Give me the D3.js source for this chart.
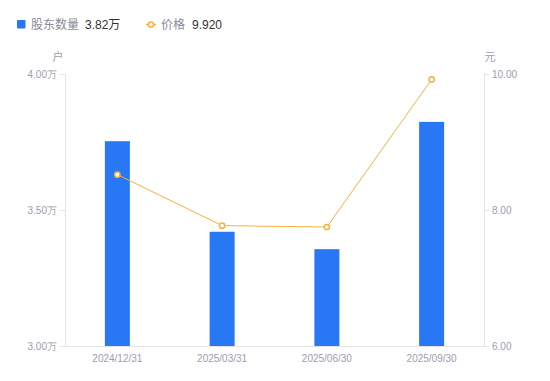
<!DOCTYPE html>
<html>
<head>
<meta charset="utf-8">
<script src="https://cdn.jsdelivr.net/npm/d3@7"></script>
<style>
  html, body { margin: 0; padding: 0; background: #fff; }
  svg { display: block; font-family: "Liberation Sans", Arial, "Noto Sans CJK SC", sans-serif; }
</style>
</head>
<body>
<div id="chart"></div>
<script>
// Data
const dates = ['2024/12/31', '2025/03/31', '2025/06/30', '2025/09/30'];
const holders = [3.753, 3.42, 3.356, 3.824]; // 万户
const prices = [8.52, 7.77, 7.75, 9.92];     // 元
const holderTicks = [3.0, 3.5, 4.0];
const priceTicks = [6, 8, 10];

const width = 550, height = 381;
const margin = { top: 74, right: 66, bottom: 35, left: 65 };
const innerW = width - margin.left - margin.right;
const innerH = height - margin.top - margin.bottom;

const barColor = '#2878f5';
const lineColor = '#f9b03c';
const axisColor = '#e3e3e8';
const tickText = '#9d9dac';

const svg = d3.select('#chart').append('svg').attr('width', width).attr('height', height);

// Legend
const legend = svg.append('g').attr('font-size', 12);
legend.append('rect').attr('x', 17).attr('y', 20).attr('width', 8.5).attr('height', 8.5)
  .attr('rx', 1).attr('fill', barColor);
legend.append('text').attr('x', 31).attr('y', 28.5).attr('fill', '#8a8a99').text('股东数量');
legend.append('text').attr('x', 85).attr('y', 28.5).attr('fill', '#333').text(d3.format('.2f')(holders[3]) + '万');
legend.append('line').attr('x1', 146).attr('x2', 156).attr('y1', 24.5).attr('y2', 24.5)
  .attr('stroke', lineColor).attr('stroke-width', 1.5);
legend.append('circle').attr('cx', 151).attr('cy', 24.5).attr('r', 2.6)
  .attr('fill', '#fff').attr('stroke', lineColor).attr('stroke-width', 1.5);
legend.append('text').attr('x', 161).attr('y', 28.5).attr('fill', '#8a8a99').text('价格');
legend.append('text').attr('x', 192).attr('y', 28.5).attr('fill', '#333').text(d3.format('.3f')(prices[3]));

const g = svg.append('g').attr('transform', `translate(${margin.left},${margin.top})`);

const x = d3.scaleBand().domain(dates).range([0, innerW]).paddingInner(0).paddingOuter(0);
const yL = d3.scaleLinear().domain([3.0, 4.0]).range([innerH, 0]);
const yR = d3.scaleLinear().domain([6, 10]).range([innerH, 0]);

function styleAxis(sel) {
  sel.select('.domain').attr('stroke', axisColor);
  sel.selectAll('.tick line').attr('stroke', axisColor);
  sel.selectAll('.tick text').attr('fill', tickText).attr('font-size', 10);
}

// Left axis
g.append('g')
  .call(d3.axisLeft(yL).tickValues(holderTicks).tickSize(5).tickSizeOuter(0).tickPadding(3)
    .tickFormat(d => d3.format('.2f')(d) + '万'))
  .call(styleAxis);

// Right axis
g.append('g').attr('transform', `translate(${innerW},0)`)
  .call(d3.axisRight(yR).tickValues(priceTicks).tickSize(5).tickSizeOuter(0).tickPadding(3)
    .tickFormat(d3.format('.2f')))
  .call(styleAxis);

// Bottom axis
g.append('g').attr('transform', `translate(0,${innerH})`)
  .call(d3.axisBottom(x).tickSize(0).tickPadding(9))
  .call(styleAxis);

// Unit labels
svg.append('text').attr('x', 58).attr('y', 61).attr('text-anchor', 'middle')
  .attr('font-size', 11).attr('fill', tickText).text('户');
svg.append('text').attr('x', 490).attr('y', 61).attr('text-anchor', 'middle')
  .attr('font-size', 11).attr('fill', tickText).text('元');

// Bars
const barW = 25;
g.selectAll('.bar')
  .data(holders)
  .enter()
  .append('rect')
  .attr('class', 'bar')
  .attr('x', (d, i) => x(dates[i]) + x.bandwidth() / 2 - barW / 2)
  .attr('y', d => yL(d))
  .attr('width', barW)
  .attr('height', d => innerH - yL(d))
  .attr('fill', barColor);

// Price line
const line = d3.line()
  .x((d, i) => x(dates[i]) + x.bandwidth() / 2)
  .y(d => yR(d));

g.append('path')
  .datum(prices)
  .attr('d', line)
  .attr('fill', 'none')
  .attr('stroke', lineColor)
  .attr('stroke-width', 1);

g.selectAll('.pt')
  .data(prices)
  .enter()
  .append('circle')
  .attr('class', 'pt')
  .attr('cx', (d, i) => x(dates[i]) + x.bandwidth() / 2)
  .attr('cy', d => yR(d))
  .attr('r', 2.6)
  .attr('fill', '#fff')
  .attr('stroke', lineColor)
  .attr('stroke-width', 1.5);
</script>
</body>
</html>
